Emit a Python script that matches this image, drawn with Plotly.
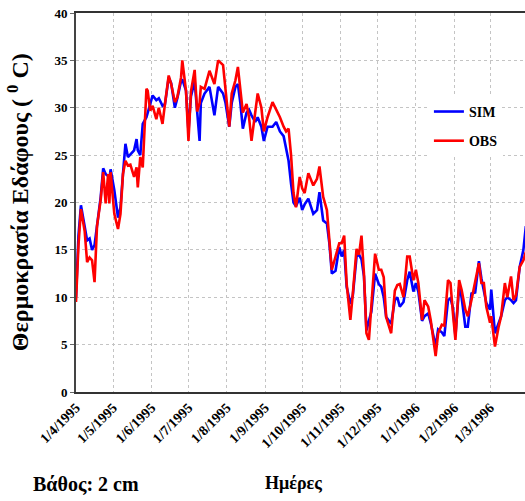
import pandas as pd
import plotly.graph_objects as go

# Day offsets from 1 April 1995 and soil temperature at 2 cm depth (°C)
start_date = "1995-04-01"
day_offsets = [
    0, 2, 4, 7, 9, 11, 13, 15, 17, 20, 22, 24, 26, 27, 28, 31, 34, 36, 38, 40,
    42, 44, 47, 49, 50, 52, 54, 57, 58, 60, 62, 65, 67, 70, 72, 73, 75, 77, 80, 82,
    85, 86, 89, 91, 93, 96, 98, 100, 101, 104, 108, 112, 115, 119, 121, 124, 126, 129, 131, 133,
    135, 138, 140, 142, 145, 147, 150, 152, 155, 159, 162, 165, 168, 170, 172, 174, 176, 178, 181, 183,
    185, 188, 192, 195, 197, 200, 203, 205, 207, 210, 213, 215, 217, 219, 222, 224, 227, 229, 231, 233,
    235, 237, 239, 242, 245, 247, 249, 251, 255, 258, 260, 262, 265, 268, 270, 273, 275, 277, 280, 282,
    285, 287, 291, 293, 296, 298, 301, 303, 305, 307, 310, 312, 315, 317, 320, 323, 326, 328, 330, 332,
    335, 336, 339, 342, 344, 347, 349, 352, 354, 356, 359, 362, 364,
]
sim_values = [
    10.0, 16.5, 19.7, 17.4, 16.0, 16.2, 15.0, 15.5, 17.7, 20.6, 23.6, 23.0, 22.8, 22.5, 23.5, 21.3, 18.4, 19.5, 23.0, 26.2,
    24.8, 25.1, 25.5, 26.7, 25.5, 25.0, 28.3, 29.0, 29.5, 30.4, 31.3, 30.8, 31.0, 30.2, 30.4, 31.3, 33.2, 32.6, 30.0, 31.0,
    32.8, 33.0, 31.8, 27.5, 31.2, 32.8, 29.5, 26.5, 30.5, 31.5, 32.2, 29.2, 32.2, 31.5, 30.5, 28.0, 30.5, 32.2, 32.5, 30.5,
    27.8, 29.5, 29.8, 29.2, 28.5, 29.0, 28.0, 26.5, 28.0, 28.0, 28.5, 27.5, 27.0, 25.5, 24.4, 22.0, 20.0, 19.6, 20.5, 19.2,
    19.8, 20.4, 18.8, 19.2, 21.1, 18.1, 17.8, 15.7, 12.5, 12.8, 15.3, 14.3, 15.0, 11.1, 9.3, 10.2, 14.3, 14.5, 14.0, 12.2,
    6.5, 7.5, 8.5, 12.5, 11.4, 11.1, 10.0, 7.9, 7.2, 9.7, 10.0, 9.0, 9.5, 11.8, 12.7, 10.6, 11.5, 10.6, 7.5, 8.0,
    8.3, 7.3, 4.8, 6.6, 6.3, 5.9, 9.7, 9.9, 8.9, 5.9, 11.1, 10.0, 6.9, 6.9, 10.4, 10.5, 13.8, 12.0, 10.6, 9.4,
    8.7, 10.8, 6.2, 7.3, 8.0, 9.7, 10.0, 9.7, 9.4, 9.7, 13.2, 15.0, 17.5,
]
obs_values = [
    9.5, 15.5, 19.3, 17.0, 13.7, 14.2, 13.9, 11.6, 17.5, 20.3, 23.2, 19.9, 23.0, 19.9, 23.2, 18.8, 17.2, 18.8, 23.0, 24.4,
    23.9, 24.0, 22.7, 23.7, 21.6, 24.8, 23.7, 32.0, 31.8, 29.7, 30.2, 28.8, 30.0, 28.3, 30.4, 31.5, 33.4, 32.5, 30.6, 31.1,
    33.2, 35.0, 31.8, 26.5, 31.7, 34.0, 29.6, 30.5, 32.2, 32.0, 33.9, 32.5, 35.0, 34.5, 32.0, 28.0, 31.5, 32.9, 34.3, 32.2,
    29.5, 30.4, 29.0, 26.5, 29.5, 31.5, 30.0, 27.5, 29.0, 30.6, 29.8, 29.0, 28.0, 27.5, 27.8, 25.0, 21.0, 19.5, 22.7, 21.5,
    21.0, 23.1, 21.8, 22.5, 23.8, 20.6, 19.2, 16.0, 12.9, 14.3, 15.7, 15.7, 16.5, 11.4, 7.6, 10.4, 15.1, 14.5, 16.5, 12.5,
    6.2, 5.5, 9.3, 14.6, 12.9, 12.9, 12.1, 7.9, 6.2, 10.7, 11.3, 11.4, 10.0, 14.3, 14.3, 11.8, 12.9, 11.5, 7.6, 9.7,
    9.0, 7.6, 3.8, 6.2, 7.1, 7.0, 11.8, 11.5, 8.3, 5.5, 11.8, 10.8, 8.7, 8.0, 9.7, 11.8, 13.6, 11.5, 11.5, 9.0,
    7.3, 8.0, 4.8, 6.9, 8.0, 11.5, 10.0, 12.2, 9.7, 10.2, 13.2, 13.9, 14.8,
]

# Monthly tick positions and their labels
tick_dates = [
    "1995-04-01", "1995-05-01", "1995-06-01", "1995-07-01", "1995-08-01", "1995-09-01",
    "1995-10-01", "1995-11-01", "1995-12-01", "1996-01-01", "1996-02-01", "1996-03-01",
]
tick_labels = [
    "1/4/1995", "1/5/1995", "1/6/1995", "1/7/1995", "1/8/1995", "1/9/1995",
    "1/10/1995", "1/11/1995", "1/12/1995", "1/1/1996", "1/2/1996", "1/3/1996",
]
y_ticks = [0, 5, 10, 15, 20, 25, 30, 35, 40]

dates = pd.Timestamp(start_date) + pd.to_timedelta(day_offsets, unit="D")
x_end = pd.Timestamp(start_date) + pd.Timedelta(days=363.3)

serif = "Liberation Serif"
legend_font = dict(family=serif, size=14, weight="bold")

fig = go.Figure()
fig.add_trace(go.Scatter(
    x=dates, y=sim_values, mode="lines", name="SIM", legend="legend",
    line=dict(color="#0000ff", width=2.6),
))
fig.add_trace(go.Scatter(
    x=dates, y=obs_values, mode="lines", name="OBS", legend="legend2",
    line=dict(color="#ff0000", width=2.6),
))

fig.update_layout(
    width=525, height=501,
    margin=dict(l=76, r=0, t=13, b=109),
    paper_bgcolor="white", plot_bgcolor="white",
    font=dict(family=serif, color="black"),
    showlegend=True,
    legend=dict(
        x=0.786, y=0.739, xanchor="left", yanchor="middle",
        bgcolor="white", borderwidth=0, font=legend_font, itemwidth=30,
    ),
    legend2=dict(
        x=0.786, y=0.662, xanchor="left", yanchor="middle",
        bgcolor="white", borderwidth=0, font=legend_font, itemwidth=30,
    ),
    annotations=[
        dict(
            text="Θερμοκρασία Εδάφους ( <sup>0</sup> C)",
            xref="paper", yref="paper", x=-0.13, y=0.5,
            xanchor="center", yanchor="middle", textangle=-90, showarrow=False,
            font=dict(family=serif, size=24, weight="bold"),
        ),
        dict(
            text="Ημέρες",
            xref="paper", yref="paper", x=0.485, y=-0.24,
            xanchor="center", yanchor="middle", showarrow=False,
            font=dict(family=serif, size=18, weight="bold"),
        ),
        dict(
            text="Βάθος: 2 cm",
            xref="paper", yref="paper", x=-0.1, y=-0.243,
            xanchor="left", yanchor="middle", showarrow=False,
            font=dict(family=serif, size=20, weight="bold"),
        ),
    ],
)

fig.update_xaxes(
    type="date",
    range=[pd.Timestamp(start_date), x_end],
    tickmode="array", tickvals=tick_dates, ticktext=tick_labels,
    tickangle=-45,
    tickfont=dict(family=serif, size=14, weight="bold"),
    showgrid=True, gridcolor="#c4c4c4", griddash="dot", gridwidth=1,
    showline=True, linecolor="#333333", linewidth=2, mirror=True,
    ticks="", zeroline=False,
)
fig.update_yaxes(
    range=[0, 40],
    tickmode="array", tickvals=y_ticks,
    tickfont=dict(family=serif, size=13, weight="bold"),
    showgrid=True, gridcolor="#c4c4c4", griddash="dot", gridwidth=1,
    showline=True, linecolor="#444444", linewidth=2,
    ticks="outside", ticklen=4, tickcolor="#666666",
    zeroline=False,
)

fig.write_html("out.html")
